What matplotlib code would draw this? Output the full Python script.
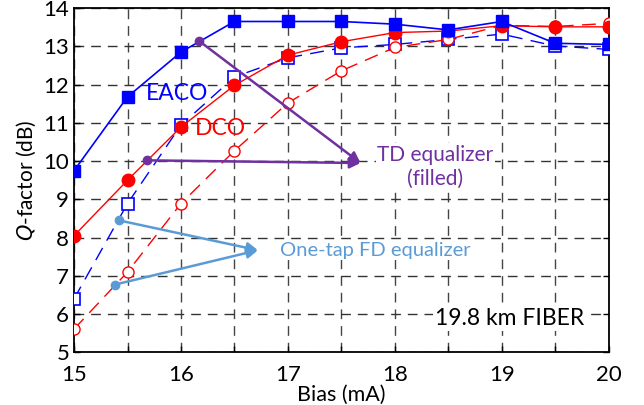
#Q-factor versus bias current, 19.8 km fiber
import numpy as np
import matplotlib.pyplot as plt

plt.rcParams['font.family'] = ['Lato', 'DejaVu Sans']

bias = [15, 15.5, 16, 16.5, 17, 17.5, 18, 18.5, 19, 19.5, 20]
eaco_td = [9.75, 11.68, 12.85, 13.65, 13.65, 13.65, 13.58, 13.43, 13.65, 13.08, 13.05]
eaco_fd = [6.4, 8.89, 10.94, 12.2, 12.7, 12.96, 13.05, 13.18, 13.32, 13.01, 12.92]
dco_td = [8.05, 9.5, 10.89, 11.98, 12.77, 13.12, 13.36, 13.4, 13.54, 13.51, 13.51]
dco_fd = [5.61, 7.1, 8.89, 10.27, 11.52, 12.36, 12.97, 13.18, 13.55, 13.52, 13.6]

blue = '#0000FF'
red = '#FF0000'
purple = '#7030A0'
lightblue = '#5B9BD5'
dash = (0, (10, 6))

fig, ax = plt.subplots(figsize=(6.44, 4.05), dpi=100)
fig.subplots_adjust(left=0.115, right=0.945, top=0.98, bottom=0.13)

ax.plot(bias, eaco_fd, color=blue, lw=1, ls=dash, marker='s', ms=8,
        mfc='white', mec=blue, mew=1.2, zorder=3)
ax.plot(bias, dco_fd, color=red, lw=1, ls=dash, marker='o', ms=8,
        mfc='white', mec=red, mew=1, zorder=3)
ax.plot(bias, dco_td, color=red, lw=1, marker='o', ms=9, mec=red, zorder=4)
ax.plot(bias, eaco_td, color=blue, lw=1.2, marker='s', ms=8, mec=blue, zorder=4)

ax.set_xlim(15, 20)
ax.set_ylim(5, 14)
ax.set_xticks(np.arange(15, 20.01, 1))
ax.set_xticks(np.arange(15, 20.01, 0.5), minor=True)
ax.set_yticks(np.arange(5, 14.01, 1))
ax.grid(True, which='both', axis='x', color='#444444', ls=(0, (7, 5)), lw=1)
ax.grid(True, which='major', axis='y', color='#333333', ls=(0, (7, 5)), lw=1)
ax.tick_params(axis='both', which='both', direction='in', labelsize=16,
               right=True, length=4, width=1)
ax.tick_params(axis='x', pad=9)
for s in ax.spines.values():
    s.set_linewidth(1.3)

ax.set_xlabel('Bias (mA)', fontsize=15.5, labelpad=0)
ax.set_ylabel('$\\mathit{Q}$-factor (dB)', fontsize=15, labelpad=4)

ax.text(15.96, 11.78, 'EACO', color=blue, fontsize=16.5, ha='center', va='center')
ax.text(16.37, 10.86, 'DCO', color=red, fontsize=16.5, ha='center', va='center')

# TD equalizer arrows
tip = (17.68, 9.95)
for x0, y0 in [(16.17, 13.14), (15.68, 10.02)]:
    ax.plot(x0, y0, 'o', color=purple, ms=6, zorder=5)
    ax.annotate('', xy=tip, xytext=(x0, y0), zorder=5,
                arrowprops=dict(arrowstyle='-|>', color=purple, lw=1.8,
                                mutation_scale=16, shrinkA=0, shrinkB=0))
ax.text(18.38, 9.85, 'TD equalizer\n(filled)', color=purple, fontsize=15,
        ha='center', va='center', linespacing=1.25,
        bbox=dict(fc='white', ec='none', pad=1))

# FD equalizer arrows
tip = (16.72, 7.67)
for x0, y0 in [(15.42, 8.45), (15.38, 6.77)]:
    ax.plot(x0, y0, 'o', color=lightblue, ms=6, zorder=5)
    ax.annotate('', xy=tip, xytext=(x0, y0), zorder=5,
                arrowprops=dict(arrowstyle='-|>', color=lightblue, lw=1.8,
                                mutation_scale=16, shrinkA=0, shrinkB=0))
ax.text(16.93, 7.67, 'One-tap FD equalizer', color=lightblue, fontsize=14.5,
        ha='left', va='center', bbox=dict(fc='white', ec='none', pad=1))

ax.text(19.07, 5.88, '19.8 km FIBER', color='black', fontsize=16.5,
        ha='center', va='center', bbox=dict(fc='white', ec='none', pad=1))

plt.savefig('out.png')
